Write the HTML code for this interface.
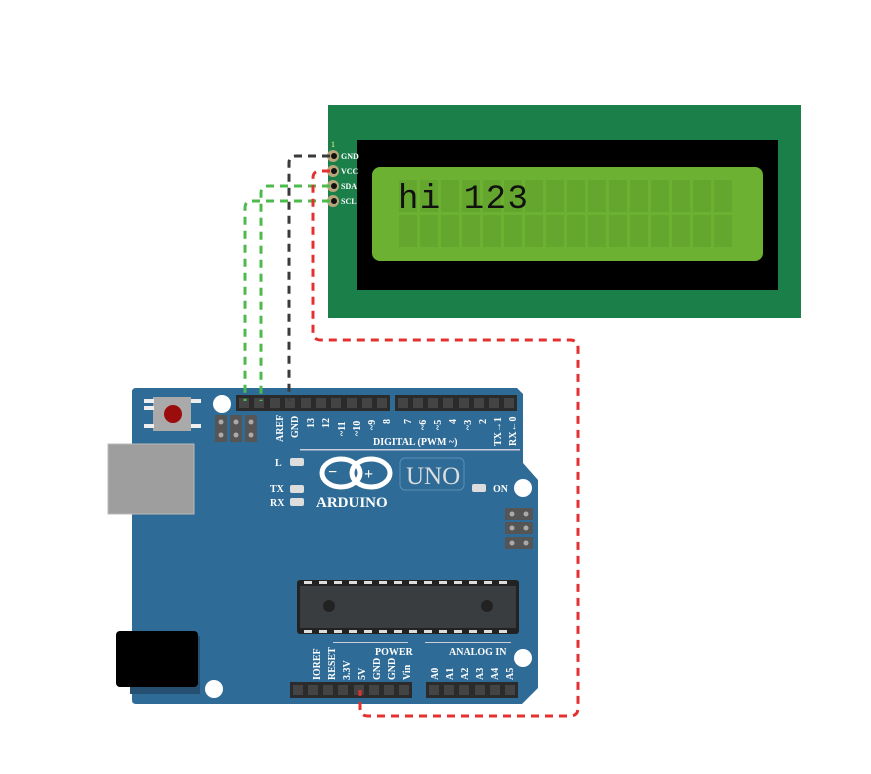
<!DOCTYPE html>
<html><head><style>body{margin:0;background:#fff}svg{display:block}text{font-family:"Liberation Serif",serif;font-weight:bold;fill:#fff}</style></head><body>
<svg width="871" height="774" viewBox="0 0 871 774">
<!-- LCD -->
<rect x="328" y="105" width="473" height="213" fill="#1a7f49"/>
<rect x="357" y="140" width="421" height="150" fill="#000"/>
<rect x="372" y="167" width="391" height="94" rx="8" fill="#6db132"/>
<g fill="#65a62e">
<rect x="399" y="180" width="18" height="32"/><rect x="420" y="180" width="18" height="32"/><rect x="441" y="180" width="18" height="32"/><rect x="462" y="180" width="18" height="32"/><rect x="483" y="180" width="18" height="32"/><rect x="504" y="180" width="18" height="32"/><rect x="525" y="180" width="18" height="32"/><rect x="546" y="180" width="18" height="32"/><rect x="567" y="180" width="18" height="32"/><rect x="588" y="180" width="18" height="32"/><rect x="609" y="180" width="18" height="32"/><rect x="630" y="180" width="18" height="32"/><rect x="651" y="180" width="18" height="32"/><rect x="672" y="180" width="18" height="32"/><rect x="693" y="180" width="18" height="32"/><rect x="714" y="180" width="18" height="32"/>
<rect x="399" y="215" width="18" height="32"/><rect x="420" y="215" width="18" height="32"/><rect x="441" y="215" width="18" height="32"/><rect x="462" y="215" width="18" height="32"/><rect x="483" y="215" width="18" height="32"/><rect x="504" y="215" width="18" height="32"/><rect x="525" y="215" width="18" height="32"/><rect x="546" y="215" width="18" height="32"/><rect x="567" y="215" width="18" height="32"/><rect x="588" y="215" width="18" height="32"/><rect x="609" y="215" width="18" height="32"/><rect x="630" y="215" width="18" height="32"/><rect x="651" y="215" width="18" height="32"/><rect x="672" y="215" width="18" height="32"/><rect x="693" y="215" width="18" height="32"/><rect x="714" y="215" width="18" height="32"/>
</g>
<text x="398" y="208" style="font-family:'Liberation Mono',monospace;font-weight:normal;fill:#111;font-size:34px;letter-spacing:1.5px">hi 123</text>
<text x="331" y="147" style="font-size:8px;fill:#ff8;font-weight:normal">1</text>
<g fill="#b8a67a"><circle cx="333" cy="156" r="6"/><circle cx="333" cy="171" r="6"/><circle cx="333" cy="186" r="6"/><circle cx="333" cy="201" r="6"/></g>
<g fill="#111"><circle cx="334" cy="156" r="3"/><circle cx="334" cy="171" r="3"/><circle cx="334" cy="186" r="3"/><circle cx="334" cy="201" r="3"/></g>
<g style="font-size:8px"><text x="341" y="159">GND</text><text x="341" y="174">VCC</text><text x="341" y="189">SDA</text><text x="341" y="204">SCL</text></g>
<!-- Arduino -->
<path d="M136 388 H517 L523 394 V463 L538 480 V688 L522 704 H136 Q132 704 132 700 V392 Q132 388 136 388Z" fill="#2e6b96"/>
<rect x="108" y="444" width="86" height="70" fill="#9e9e9e" stroke="#bbb"/>
<rect x="130" y="636" width="70" height="58" fill="#244f70"/>
<rect x="116" y="631" width="82" height="56" rx="4" fill="#000"/>
<rect x="153" y="397" width="38" height="34" fill="#aaa"/>
<circle cx="173" cy="414" r="9" fill="#9b0d0d"/>
<g fill="#eee"><rect x="144" y="399" width="10" height="4"/><rect x="144" y="406" width="10" height="4"/><rect x="144" y="424" width="10" height="4"/><rect x="191" y="399" width="10" height="4"/><rect x="191" y="424" width="10" height="4"/></g>
<g fill="#fff"><circle cx="222" cy="404" r="9"/><circle cx="214" cy="689" r="9"/><circle cx="523" cy="488" r="9"/><circle cx="523" cy="658" r="9"/></g>
<g fill="#555"><rect x="215" y="415" width="12" height="27"/><rect x="230" y="415" width="12" height="27"/><rect x="245" y="415" width="12" height="27"/>
<rect x="505" y="508" width="28" height="12"/><rect x="505" y="522" width="28" height="12"/><rect x="505" y="537" width="28" height="12"/></g>
<g fill="#aaa"><circle cx="221" cy="422" r="2.5"/><circle cx="221" cy="435" r="2.5"/><circle cx="236" cy="422" r="2.5"/><circle cx="236" cy="435" r="2.5"/><circle cx="251" cy="422" r="2.5"/><circle cx="251" cy="435" r="2.5"/>
<circle cx="512" cy="514" r="2.5"/><circle cx="526" cy="514" r="2.5"/><circle cx="512" cy="528" r="2.5"/><circle cx="526" cy="528" r="2.5"/><circle cx="512" cy="543" r="2.5"/><circle cx="526" cy="543" r="2.5"/></g>
<rect x="236" y="395" width="154" height="16" fill="#2b2b2b"/>
<rect x="395" y="395" width="122" height="16" fill="#2b2b2b"/>
<rect x="290" y="682" width="122" height="16" fill="#2b2b2b"/>
<rect x="426" y="682" width="92" height="16" fill="#2b2b2b"/>
<g fill="#444">
<rect x="239" y="398" width="10" height="10"/><rect x="254" y="398" width="10" height="10"/><rect x="270" y="398" width="10" height="10"/><rect x="285" y="398" width="10" height="10"/><rect x="301" y="398" width="10" height="10"/><rect x="316" y="398" width="10" height="10"/><rect x="331" y="398" width="10" height="10"/><rect x="347" y="398" width="10" height="10"/><rect x="362" y="398" width="10" height="10"/><rect x="377" y="398" width="10" height="10"/>
<rect x="398" y="398" width="10" height="10"/><rect x="413" y="398" width="10" height="10"/><rect x="428" y="398" width="10" height="10"/><rect x="443" y="398" width="10" height="10"/><rect x="459" y="398" width="10" height="10"/><rect x="474" y="398" width="10" height="10"/><rect x="489" y="398" width="10" height="10"/><rect x="504" y="398" width="10" height="10"/>
<rect x="293" y="685" width="10" height="10"/><rect x="308" y="685" width="10" height="10"/><rect x="323" y="685" width="10" height="10"/><rect x="338" y="685" width="10" height="10"/><rect x="354" y="685" width="10" height="10"/><rect x="369" y="685" width="10" height="10"/><rect x="384" y="685" width="10" height="10"/><rect x="399" y="685" width="10" height="10"/>
<rect x="429" y="685" width="10" height="10"/><rect x="444" y="685" width="10" height="10"/><rect x="459" y="685" width="10" height="10"/><rect x="475" y="685" width="10" height="10"/><rect x="490" y="685" width="10" height="10"/><rect x="505" y="685" width="10" height="10"/>
</g>
<g style="font-size:10px">
<text transform="translate(283,442) rotate(-90)">AREF</text><text transform="translate(298,438) rotate(-90)">GND</text>
<text transform="translate(314,428) rotate(-90)">13</text><text transform="translate(329,428) rotate(-90)">12</text>
<text transform="translate(345,436) rotate(-90)">~11</text><text transform="translate(360,436) rotate(-90)">~10</text>
<text transform="translate(375,430) rotate(-90)">~9</text><text transform="translate(390,424) rotate(-90)">8</text>
<text transform="translate(411,424) rotate(-90)">7</text><text transform="translate(426,430) rotate(-90)">~6</text>
<text transform="translate(441,430) rotate(-90)">~5</text><text transform="translate(456,424) rotate(-90)">4</text>
<text transform="translate(471,430) rotate(-90)">~3</text><text transform="translate(486,424) rotate(-90)">2</text>
<text transform="translate(501,446) rotate(-90)">TX→1</text><text transform="translate(516,446) rotate(-90)">RX←0</text>
<text x="373" y="445">DIGITAL (PWM ~)</text>
<text x="275" y="466">L</text><text x="270" y="492">TX</text><text x="270" y="506">RX</text><text x="493" y="492">ON</text>
</g>
<rect x="300" y="449" width="220" height="1.5" fill="#ccd"/>
<g fill="#ddd"><rect x="290" y="458" width="14" height="8" rx="2"/><rect x="290" y="485" width="14" height="8" rx="2"/><rect x="290" y="498" width="14" height="8" rx="2"/><rect x="472" y="484" width="14" height="8" rx="2"/></g>
<g fill="none" stroke="#fff" stroke-width="5"><ellipse cx="341" cy="473" rx="19" ry="14"/><ellipse cx="371" cy="473" rx="19" ry="14"/></g>
<text x="328" y="477" style="font-size:16px">−</text><text x="364" y="479" style="font-size:16px">+</text>
<text x="316" y="507" style="font-size:15px">ARDUINO</text>
<rect x="400" y="458" width="64" height="32" rx="5" fill="none" stroke="#5d8fb5"/>
<text x="406" y="484" style="font-size:25px;font-weight:normal;fill:#ddd">UNO</text>
<rect x="297" y="580" width="222" height="54" rx="3" fill="#222"/>
<rect x="300" y="586" width="216" height="42" fill="#3a3d40"/>
<g fill="#ddd">
<rect x="304" y="581" width="8" height="3"/><rect x="319" y="581" width="8" height="3"/><rect x="334" y="581" width="8" height="3"/><rect x="349" y="581" width="8" height="3"/><rect x="364" y="581" width="8" height="3"/><rect x="379" y="581" width="8" height="3"/><rect x="394" y="581" width="8" height="3"/><rect x="409" y="581" width="8" height="3"/><rect x="424" y="581" width="8" height="3"/><rect x="439" y="581" width="8" height="3"/><rect x="454" y="581" width="8" height="3"/><rect x="469" y="581" width="8" height="3"/><rect x="484" y="581" width="8" height="3"/><rect x="499" y="581" width="8" height="3"/>
<rect x="304" y="630" width="8" height="3"/><rect x="319" y="630" width="8" height="3"/><rect x="334" y="630" width="8" height="3"/><rect x="349" y="630" width="8" height="3"/><rect x="364" y="630" width="8" height="3"/><rect x="379" y="630" width="8" height="3"/><rect x="394" y="630" width="8" height="3"/><rect x="409" y="630" width="8" height="3"/><rect x="424" y="630" width="8" height="3"/><rect x="439" y="630" width="8" height="3"/><rect x="454" y="630" width="8" height="3"/><rect x="469" y="630" width="8" height="3"/><rect x="484" y="630" width="8" height="3"/><rect x="499" y="630" width="8" height="3"/>
</g>
<circle cx="329" cy="606" r="6" fill="#222"/><circle cx="487" cy="606" r="6" fill="#222"/>
<rect x="333" y="642" width="75" height="1" fill="#ccd"/><rect x="425" y="642" width="86" height="1" fill="#ccd"/>
<g style="font-size:10px">
<text x="375" y="655">POWER</text><text x="449" y="655">ANALOG IN</text>
<text transform="translate(320,680) rotate(-90)">IOREF</text><text transform="translate(335,680) rotate(-90)">RESET</text>
<text transform="translate(350,680) rotate(-90)">3.3V</text><text transform="translate(365,680) rotate(-90)">5V</text>
<text transform="translate(380,680) rotate(-90)">GND</text><text transform="translate(395,680) rotate(-90)">GND</text>
<text transform="translate(410,680) rotate(-90)">Vin</text>
<text transform="translate(438,680) rotate(-90)">A0</text><text transform="translate(453,680) rotate(-90)">A1</text><text transform="translate(468,680) rotate(-90)">A2</text><text transform="translate(483,680) rotate(-90)">A3</text><text transform="translate(498,680) rotate(-90)">A4</text><text transform="translate(513,680) rotate(-90)">A5</text>
</g>
<!-- wires -->
<g fill="none" stroke-width="3" stroke-dasharray="8 6">
<path d="M330 156 H296 Q289 156 289 163 V401" stroke="#3a3a3a"/>
<path d="M330 186 H268 Q261 186 261 193 V401" stroke="#4cbb4c"/>
<path d="M330 201 H252 Q245 201 245 208 V401" stroke="#4cbb4c"/>
<path d="M330 171 H320 Q313 171 313 178 V332 Q313 340 321 340 H570 Q578 340 578 348 V708 Q578 716 570 716 H368 Q360 716 360 708 V690" stroke="#e53030"/>
</g>
</svg>
</body></html>
